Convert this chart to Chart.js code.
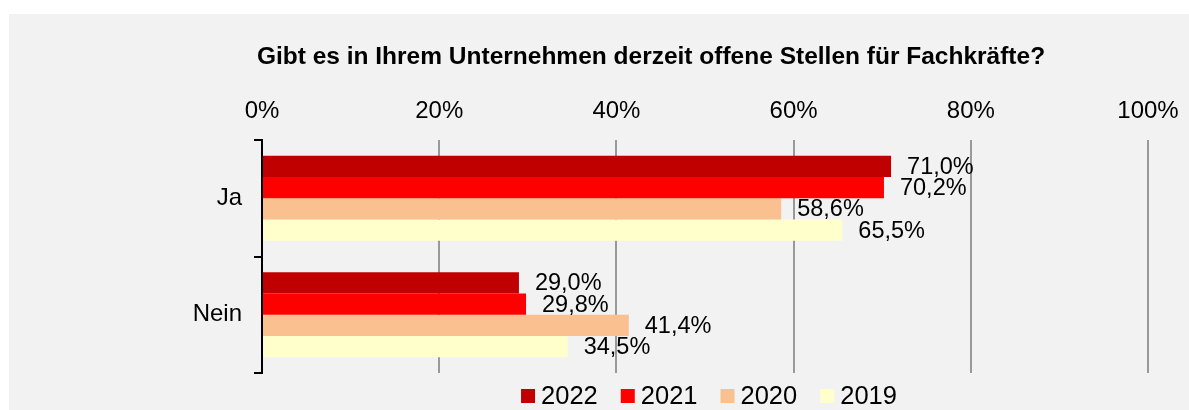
<!DOCTYPE html>
<html>
<head>
<meta charset="utf-8">
<script src="https://cdn.jsdelivr.net/npm/chart.js@4.4.1/dist/chart.umd.min.js"></script>
<style>
    body { margin: 0; background: #fff; }
    .panel { position: absolute; left: 9px; top: 14px; width: 1180px; height: 396px; background: #f2f2f2; }
</style>
</head>
<body>
<div class="panel"><canvas class="chart" width="1180" height="396"></canvas></div>
<script>
const categories = ['Ja', 'Nein'];
const years = ['2022', '2021', '2020', '2019'];
const colors = ['#c00000', '#ff0000', '#fac090', '#ffffcc'];
const values2022 = [71.0, 29.0];
const values2021 = [70.2, 29.8];
const values2020 = [58.6, 41.4];
const values2019 = [65.5, 34.5];
const xTicks = [0, 20, 40, 60, 80, 100];

const font = "'Liberation Sans', Arial, sans-serif";
Chart.defaults.color = '#000';
Chart.defaults.font.family = font;

// value labels right of each bar
const barLabels = {
    id: 'barLabels',
    afterDatasetsDraw(chart) {
        const ctx = chart.ctx;
        ctx.save();
        ctx.font = '23.5px ' + font;
        ctx.fillStyle = '#000';
        ctx.textAlign = 'left';
        ctx.textBaseline = 'middle';
        chart.data.datasets.forEach((ds, i) => {
            chart.getDatasetMeta(i).data.forEach((bar, j) => {
                ctx.fillText(ds.data[j].toFixed(1).replace('.', ',') + '%', bar.x + 16, bar.y + 1);
            });
        });
        ctx.restore();
    }
};

// legend below the plot, tight box/text spacing
const bottomLegend = {
    id: 'bottomLegend',
    afterDraw(chart) {
        const ctx = chart.ctx;
        const area = chart.chartArea;
        ctx.save();
        ctx.font = '25.5px ' + font;
        ctx.textAlign = 'left';
        ctx.textBaseline = 'middle';
        const box = 14, gap = 6, space = 23;
        const items = chart.data.datasets.map(ds => ({ text: ds.label, color: ds.backgroundColor, w: box + gap + ctx.measureText(ds.label).width }));
        const total = items.reduce((s, it) => s + it.w, 0) + space * (items.length - 1);
        let x = (area.left + area.right) / 2 - total / 2 + 4;
        const y = 382;
        items.forEach(it => {
            ctx.fillStyle = it.color;
            ctx.fillRect(x, y - box / 2, box, box);
            ctx.fillStyle = '#000';
            ctx.fillText(it.text, x + box + gap, y + 1);
            x += it.w + space;
        });
        ctx.restore();
    }
};

new Chart(
    document.querySelector('.chart'),
    {
    type: 'bar',
    data: {
        labels: categories,
        datasets: [
            { label: years[0], data: values2022, backgroundColor: colors[0] },
            { label: years[1], data: values2021, backgroundColor: colors[1] },
            { label: years[2], data: values2020, backgroundColor: colors[2] },
            { label: years[3], data: values2019, backgroundColor: colors[3] }
        ]
    },
    options: {
        responsive: false,
        animation: false,
        indexAxis: 'y',
        barPercentage: 1,
        categoryPercentage: 0.73,
        layout: { padding: { left: 104, right: 0, top: 0, bottom: 37 } },
        plugins: {
            title: {
                display: true,
                text: 'Gibt es in Ihrem Unternehmen derzeit offene Stellen für Fachkräfte?',
                font: { size: 24.5, weight: 'bold' },
                padding: { top: 29, bottom: 0 }
            },
            legend: { display: false },
            tooltip: { enabled: false }
        },
        scales: {
            x: {
                position: 'top',
                min: 0,
                max: 100,
                afterBuildTicks: s => { s.ticks = xTicks.map(v => ({ value: v })); },
                afterFit: s => { s.height = 67.6; s.paddingRight = 41; },
                ticks: { padding: 14, font: { size: 24 }, callback: v => v + '%' },
                grid: { color: '#999', lineWidth: 2, drawTicks: false },
                border: { display: false }
            },
            y: {
                afterFit: s => { s.width = 149; },
                ticks: { padding: 12, font: { size: 24 } },
                grid: { offset: true, drawOnChartArea: false, color: '#000', lineWidth: 2, tickLength: 8 },
                border: { display: true, color: '#000', width: 2 }
            }
        }
    },
    plugins: [barLabels, bottomLegend]
    }
);
</script>
</body>
</html>
